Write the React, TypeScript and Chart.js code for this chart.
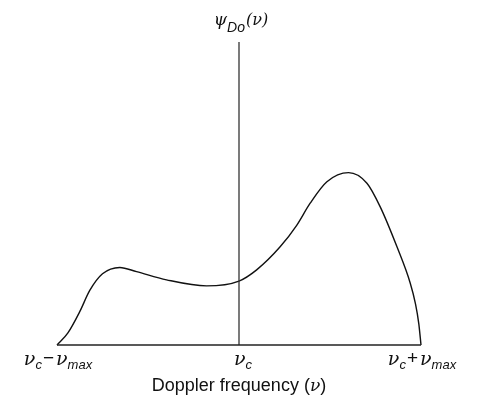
import React, { useEffect, useRef } from "react";
import { Chart, registerables } from "chart.js";

Chart.register(...registerables);

// Doppler frequency, normalised: -1 = νc − νmax, 0 = νc, +1 = νc + νmax
const freqPositions = [
  -1, -0.94, -0.875, -0.82, -0.75, -0.655, -0.563, -0.398, -0.178, 0,
  0.097, 0.226, 0.317, 0.391, 0.483, 0.602, 0.703, 0.776, 0.868, 0.941, 0.97, 0.988, 1,
];
// Doppler power spectrum ψDo(ν), arbitrary units
const psiValues = [
  0, 4, 11, 18, 23.5, 25.6, 24.2, 21.5, 19.5, 21.1,
  24.8, 32.4, 39.5, 46.8, 53.9, 56.9, 53.4, 45.6, 32.4, 20.4, 13.5, 7, 0,
];
const freqRange = [-1, 1];
const psiRange = [0, 100];
const tickPositions = [-1, 0, 1];
// Tick labels as [text, role] segments
const tickLabels: [string, string][][] = [
  [["ν", "main"], ["c", "sub"], ["−", "op"], ["ν", "main"], ["max", "sub"]],
  [["ν", "main"], ["c", "sub"]],
  [["ν", "main"], ["c", "sub"], ["+", "op"], ["ν", "main"], ["max", "sub"]],
];
const yAxisLabel: [string, string][] = [["ψ", "psi"], ["Do", "tsub"], ["(ν)", "paren"]];
const xAxisLabel: [string, string][] = [["Doppler frequency (", "sans"], ["ν", "nu"], [")", "sans"]];

const roleStyle: Record<string, { font: string; dy: number; padL?: number; padR?: number }> = {
  main: { font: "italic 19px 'DejaVu Serif'", dy: 0 },
  sub: { font: "italic 13px 'Liberation Sans'", dy: 4 },
  op: { font: "19px 'Liberation Sans'", dy: -1, padL: 1, padR: 2 },
  psi: { font: "italic 17px 'DejaVu Serif'", dy: 0 },
  tsub: { font: "italic 14px 'Liberation Sans'", dy: 7 },
  paren: { font: "italic 16px 'DejaVu Serif'", dy: 0, padL: 1 },
  sans: { font: "18px 'Liberation Sans'", dy: 0 },
  nu: { font: "italic 17px 'DejaVu Serif'", dy: 0 },
};

function drawRich(ctx: CanvasRenderingContext2D, segs: [string, string][], cx: number, baseY: number) {
  let total = 0;
  const widths = segs.map(([t, r]) => {
    const st = roleStyle[r];
    ctx.font = st.font;
    const w = ctx.measureText(t).width + (st.padL || 0) + (st.padR || 0);
    total += w;
    return w;
  });
  let x = cx - total / 2;
  segs.forEach(([t, r], i) => {
    const st = roleStyle[r];
    ctx.font = st.font;
    ctx.fillText(t, x + (st.padL || 0), baseY + st.dy);
    x += widths[i];
  });
}

const labelPlugin = {
  id: "richLabels",
  afterDraw(chart: any) {
    const ctx = chart.ctx as CanvasRenderingContext2D;
    const xs = chart.scales.x;
    const ys = chart.scales.y;
    ctx.save();
    ctx.fillStyle = "#111";
    ctx.textBaseline = "alphabetic";
    ctx.textAlign = "left";
    const base = ys.getPixelForValue(0);
    tickPositions.forEach((v, i) => {
      drawRich(ctx, tickLabels[i], xs.getPixelForValue(v) + (i === 1 ? 4 : 1), base + 20);
    });
    drawRich(ctx, yAxisLabel, xs.getPixelForValue(0) + 2, ys.getPixelForValue(psiRange[1]) - 17);
    drawRich(ctx, xAxisLabel, xs.getPixelForValue(0), base + 46);
    ctx.restore();
  },
};

export default function App() {
  const ref = useRef<HTMLCanvasElement | null>(null);
  useEffect(() => {
    if (!ref.current) return;
    const curve = freqPositions.map((x, i) => ({ x, y: psiValues[i] }));
    const chart = new Chart(ref.current, {
      type: "line",
      data: {
        datasets: [
          {
            data: [{ x: freqRange[0], y: 0 }, { x: freqRange[1], y: 0 }],
            borderColor: "#222",
            borderWidth: 1.5,
            pointRadius: 0,
            clip: 10,
          } as any,
          {
            data: [{ x: 0, y: psiRange[0] }, { x: 0, y: psiRange[1] }],
            borderColor: "#333",
            borderWidth: 1.3,
            pointRadius: 0,
            clip: 10,
          } as any,
          {
            data: curve,
            borderColor: "#111",
            borderWidth: 1.4,
            pointRadius: 0,
            cubicInterpolationMode: "monotone",
            clip: 10,
          } as any,
        ],
      },
      options: {
        responsive: false,
        animation: false,
        layout: { padding: { left: 57, right: 59, top: 42, bottom: 51 } },
        plugins: { legend: { display: false }, tooltip: { enabled: false } },
        scales: {
          x: { type: "linear", min: freqRange[0], max: freqRange[1], display: false },
          y: { type: "linear", min: psiRange[0], max: psiRange[1], display: false },
        },
      },
      plugins: [labelPlugin],
    });
    return () => chart.destroy();
  }, []);
  return (
    <div style={{ position: "fixed", left: 0, top: 0, width: 480, height: 396, background: "#fff" }}>
      <canvas ref={ref} width={480} height={396} />
    </div>
  );
}
